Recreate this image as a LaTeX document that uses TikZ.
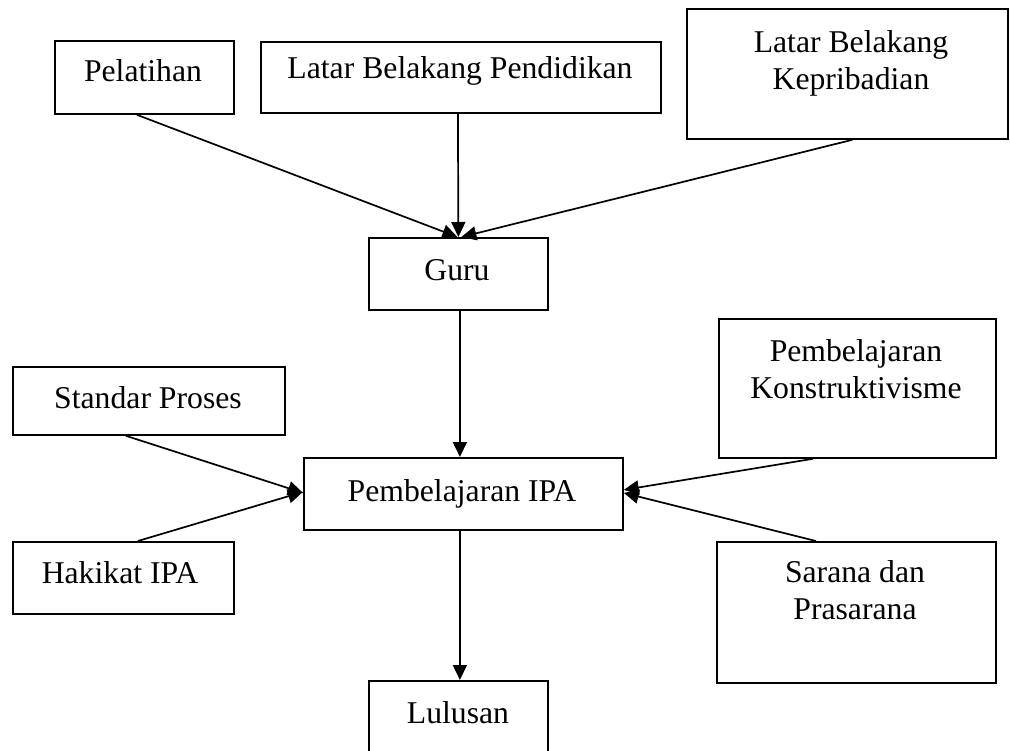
\documentclass[tikz,border=0pt]{standalone}
\usepackage{fontspec}
\setmainfont{Liberation Serif}
\usetikzlibrary{arrows.meta}
\tikzset{
  box/.style={draw=black, line width=1.8pt, rectangle, anchor=north west, inner sep=0pt},
  lbl/.style={font=\fontsize{31.7}{37}\selectfont, align=center, inner sep=0pt},
  arr/.style={line width=1.7pt, -{Triangle[length=15pt,width=14pt]}}
}
\begin{document}
\begin{tikzpicture}[x=1pt,y=-1pt]
\useasboundingbox (0,0) rectangle (1010,751);
\begin{scope}
\clip (0,0) rectangle (1010,751);
% boxes
\node[box, minimum width=179pt, minimum height=73pt] (pel) at (54,40) {};
\node[box, minimum width=400pt, minimum height=71pt] (lbp) at (260,41) {};
\node[box, minimum width=321pt, minimum height=130pt] (lbk) at (686,8) {};
\node[box, minimum width=179pt, minimum height=72pt] (guru) at (368,237) {};
\node[box, minimum width=272pt, minimum height=68pt] (sp) at (12,366) {};
\node[box, minimum width=319pt, minimum height=72pt] (pipa) at (303,457) {};
\node[box, minimum width=221pt, minimum height=72pt] (hak) at (12,541) {};
\node[box, minimum width=277pt, minimum height=139pt] (pk) at (718,318) {};
\node[box, minimum width=279pt, minimum height=141pt] (sar) at (716,541) {};
\node[box, minimum width=179pt, minimum height=110pt] (lul) at (368,680) {};
% texts
\node[lbl] (pel-t) at (143,71) {Pelatihan};
\node[lbl] (lbp-t) at (460,71) {Latar Belakang Pendidikan};
\node[lbl] (lbk-t) at (851,63) {Latar Belakang\\Kepribadian};
\node[lbl] (guru-t) at (457,270) {Guru};
\node[lbl] (sp-t) at (148,398) {Standar Proses};
\node[lbl] (pipa-t) at (462,494) {Pembelajaran IPA};
\node[lbl] (hak-t) at (120,573) {Hakikat IPA};
\node[lbl] (pk-t) at (856,369) {Pembelajaran\\Konstruktivisme};
\node[lbl] (sar-t) at (855,590) {Sarana dan\\Prasarana};
\node[lbl] (lul-t) at (458,713) {Lulusan};
% connectors
\draw[arr] ([xshift=-7.5pt]pel.south) -- ([xshift=-1pt]guru.north);
\draw[arr] ([xshift=-3pt]lbp.south) -- (guru.north);
\draw[arr] ([xshift=5pt]lbk.south) -- ([xshift=3pt]guru.north);
\draw[arr] ([xshift=1.5pt]guru.south) -- ([xshift=1.5pt]guru.south |- pipa.north);
\draw[arr] ([xshift=-23pt]sp.south) -- ([yshift=1pt]pipa.west);
\draw[arr] ([xshift=14.5pt]hak.north) -- ([yshift=2pt]pipa.west);
\draw[arr] ([xshift=-44.5pt]pk.south) -- ([yshift=4pt]pipa.east);
\draw[arr] ([xshift=-40.5pt]sar.north) -- ([yshift=1pt]pipa.east);
\draw[arr] ([xshift=-3.5pt]pipa.south) -- ([xshift=-3.5pt]pipa.south |- lul.north);
\end{scope}
\end{tikzpicture}
\end{document}
